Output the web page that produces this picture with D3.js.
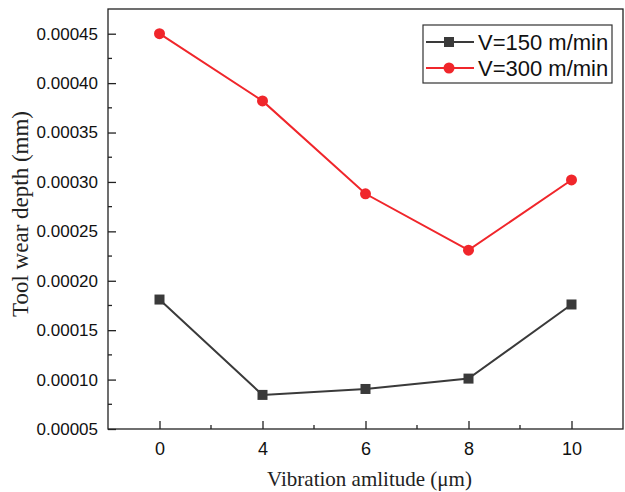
<!DOCTYPE html>
<html>
<head>
<meta charset="utf-8">
<script src="https://cdn.jsdelivr.net/npm/d3@7"></script>
<style>
  body { margin: 0; background: #fff; }
  svg { display: block; }
</style>
</head>
<body>
<svg id="chart" width="625" height="492"></svg>
<script>
// data
var amplitudes = ["0", "4", "6", "8", "10"];
var wear150 = [0.000181, 0.0000845, 0.0000905, 0.000101, 0.000176];
var wear300 = [0.000450, 0.000382, 0.000288, 0.000231, 0.000302];
var yTicks = [0.00005, 0.00010, 0.00015, 0.00020, 0.00025, 0.00030, 0.00035, 0.00040, 0.00045];
var seriesNames = ["V=150 m/min", "V=300 m/min"];

var margin = {top: 9, right: 2, bottom: 63, left: 108},
    width = 625 - margin.left - margin.right,
    height = 492 - margin.top - margin.bottom;

var svg = d3.select("#chart");
var g = svg.append("g").attr("transform", "translate(" + margin.left + "," + margin.top + ")");

// ============ scales
var x = d3.scalePoint().domain(amplitudes).range([0, width]).padding(0.5);
var y = d3.scaleLinear().domain([0.00005, 0.000475]).range([height, 0]);

var axisColor = "#222";
var sans = "Arial, 'Liberation Sans', sans-serif";
var serif = "'Times New Roman', 'Liberation Serif', serif";

// minor ticks (half steps)
var xMinor = [];
for (var i = 0; i < amplitudes.length - 1; i++) xMinor.push((x(amplitudes[i]) + x(amplitudes[i + 1])) / 2);
var yMinor = yTicks.slice(0, -1).map(function(d) { return d + 0.000025; });

// frame
g.append("rect")
  .attr("width", width).attr("height", height)
  .attr("fill", "none").attr("stroke", axisColor).attr("stroke-width", 1.3);

// x axis (ticks pointing inward)
var xAxis = g.append("g")
  .attr("transform", "translate(0," + height + ")")
  .call(d3.axisBottom(x).tickSizeInner(-8).tickSizeOuter(0).tickPadding(13));
xAxis.select(".domain").remove();
xAxis.selectAll("line").attr("stroke", axisColor).attr("stroke-width", 1.3);
xAxis.selectAll("text").attr("font-family", sans).attr("font-size", 18).attr("fill", "#111");

g.append("g").selectAll("line").data(xMinor).enter().append("line")
  .attr("x1", function(d) { return d; }).attr("x2", function(d) { return d; })
  .attr("y1", height).attr("y2", height - 4)
  .attr("stroke", axisColor).attr("stroke-width", 1.3);

// y axis
var yAxis = g.append("g")
  .call(d3.axisLeft(y).tickValues(yTicks).tickFormat(d3.format(".5f")).tickSizeInner(-8).tickSizeOuter(0).tickPadding(10));
yAxis.select(".domain").remove();
yAxis.selectAll("line").attr("stroke", axisColor).attr("stroke-width", 1.3);
yAxis.selectAll("text").attr("font-family", sans).attr("font-size", 17).attr("fill", "#111");

g.append("g").selectAll("line").data(yMinor).enter().append("line")
  .attr("x1", 0).attr("x2", 4)
  .attr("y1", function(d) { return y(d); }).attr("y2", function(d) { return y(d); })
  .attr("stroke", axisColor).attr("stroke-width", 1.3);

// axis titles
svg.append("text")
  .attr("x", margin.left + width / 2 + 4).attr("y", 486)
  .attr("text-anchor", "middle")
  .attr("font-family", serif).attr("font-size", 21).attr("fill", "#222")
  .text("Vibration amlitude (\u03bcm)");

svg.append("text")
  .attr("transform", "translate(28," + 214 + ") rotate(-90)")
  .attr("text-anchor", "middle")
  .attr("font-family", serif).attr("font-size", 23).attr("fill", "#222")
  .text("Tool wear depth (mm)");

// ============ lines
var line = d3.line()
  .x(function(d, i) { return x(amplitudes[i]); })
  .y(function(d) { return y(d); });

var blackCol = "#3a3a3a", redCol = "#f0262b";

g.append("path").datum(wear150)
  .attr("d", line).attr("fill", "none")
  .attr("stroke", blackCol).attr("stroke-width", 2);

g.append("path").datum(wear300)
  .attr("d", line).attr("fill", "none")
  .attr("stroke", redCol).attr("stroke-width", 2);

g.append("g").selectAll("rect").data(wear150).enter().append("rect")
  .attr("x", function(d, i) { return x(amplitudes[i]) - 5; })
  .attr("y", function(d) { return y(d) - 5; })
  .attr("width", 10).attr("height", 10)
  .attr("fill", blackCol);

g.append("g").selectAll("circle").data(wear300).enter().append("circle")
  .attr("cx", function(d, i) { return x(amplitudes[i]); })
  .attr("cy", function(d) { return y(d); })
  .attr("r", 5.5)
  .attr("fill", redCol);

// ============ legend
var legend = svg.append("g").attr("transform", "translate(423,25)");
legend.append("rect")
  .attr("width", 189).attr("height", 58)
  .attr("fill", "#fff").attr("stroke", "#333").attr("stroke-width", 1.2);

var rows = legend.selectAll("g.row").data(seriesNames).enter().append("g")
  .attr("class", "row")
  .attr("transform", function(d, i) { return "translate(0," + (17 + i * 26) + ")"; });

rows.append("line")
  .attr("x1", 3).attr("x2", 51).attr("y1", 0).attr("y2", 0)
  .attr("stroke", function(d, i) { return i === 0 ? blackCol : redCol; })
  .attr("stroke-width", 2);

rows.filter(function(d, i) { return i === 0; }).append("rect")
  .attr("x", 21).attr("y", -5).attr("width", 10).attr("height", 10).attr("fill", blackCol);
rows.filter(function(d, i) { return i === 1; }).append("circle")
  .attr("cx", 26).attr("cy", 0).attr("r", 5.5).attr("fill", redCol);

rows.append("text")
  .attr("x", 55).attr("y", 8)
  .attr("font-family", sans).attr("font-size", 22).attr("fill", "#111")
  .text(function(d) { return d; });
</script>
</body>
</html>
